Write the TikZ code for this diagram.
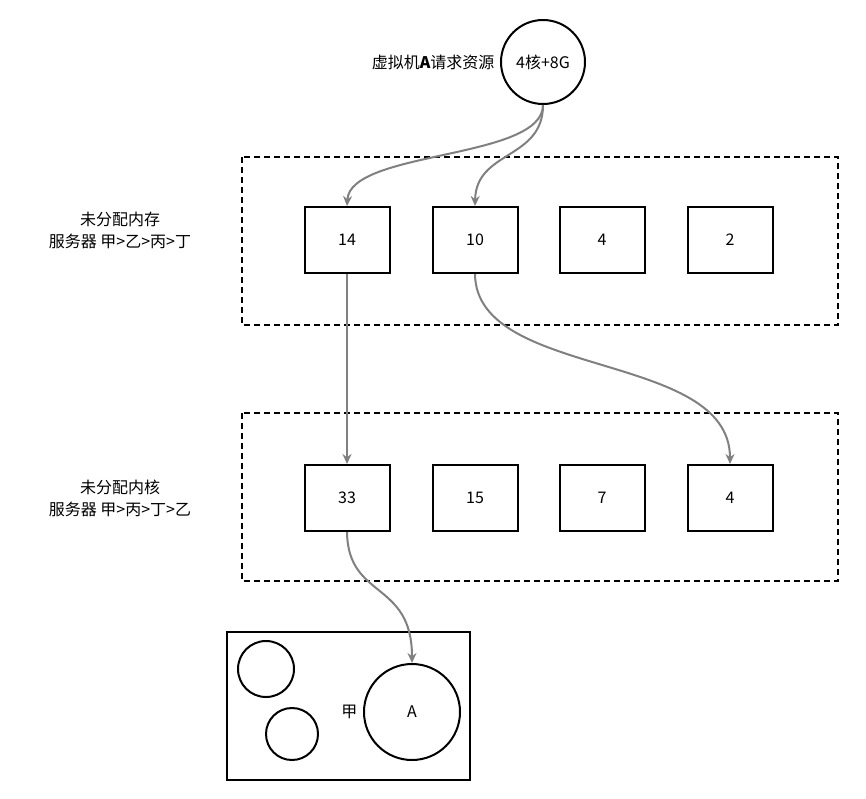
\documentclass[tikz,border=0pt]{standalone}
\usepackage{fontspec}
\setmainfont{Noto Sans CJK SC}
\usetikzlibrary{positioning,arrows.meta}

\tikzset{
  slot/.style={draw,line width=2pt,minimum width=85pt,minimum height=66pt,font=\fontsize{16}{18}\selectfont},
  pool/.style={draw,dash pattern=on 6pt off 4pt,line width=2pt},
  flow/.style={draw=gray,line width=2pt,-{Stealth[length=10pt,width=9pt]}},
  lbl/.style={font=\fontsize{16}{22}\selectfont,align=center}
}

\begin{document}
\begin{tikzpicture}[x=1pt,y=-1pt]
  \useasboundingbox (0,0) rectangle (866,798);
  % request
  \node [circle,draw,line width=2pt,minimum size=84pt,font=\fontsize{16}{18}\selectfont] (req) at (543,62) {4核+8G};
  \node [lbl,left=2pt of req] (reqlbl) {虚拟机\textbf{\textit{A}}请求资源};

  % memory pool
  \draw [pool] (242,157) rectangle (838,325);
  \node [lbl] (memlbl) at (120,230) {未分配内存\\服务器 甲>乙>丙>丁};
  \node [slot] (m1) at (347,240) {14};
  \node [slot] (m2) at (475,240) {10};
  \node [slot] (m3) at (602,240) {4};
  \node [slot] (m4) at (730,240) {2};

  % core pool
  \draw [pool] (242,413) rectangle (838,581);
  \node [lbl] (corelbl) at (120,498) {未分配内核\\服务器 甲>丙>丁>乙};
  \node [slot] (c1) at (347,498) {33};
  \node [slot] (c2) at (475,498) {15};
  \node [slot] (c3) at (602,498) {7};
  \node [slot] (c4) at (730,498) {4};

  % server
  \draw [line width=2pt] (227,632) rectangle (470,780);
  \node [circle,draw,line width=2pt,minimum size=56pt] (s1) at (266,669) {};
  \node [circle,draw,line width=2pt,minimum size=52pt] (s2) at (292,734) {};
  \node [circle,draw,line width=2pt,minimum size=96pt,font=\fontsize{16}{18}\selectfont] (vmA) at (412,712) {A};
  \node [lbl,left=2pt of vmA] (jia) {甲};

  \draw [flow] (req.south) .. controls (543,160) and (350,150) .. (m1.north);
  \draw [flow] (req.south) .. controls (543,160) and (476,150) .. (m2.north);
  \draw [flow] (m1.south) -- (c1.north);
  \draw [flow] (m2.south) .. controls (476,380) and (730,350) .. (c4.north);
  \draw [flow] (c1.south) .. controls (348,600) and (412,580) .. (vmA.north);
\end{tikzpicture}
\end{document}
